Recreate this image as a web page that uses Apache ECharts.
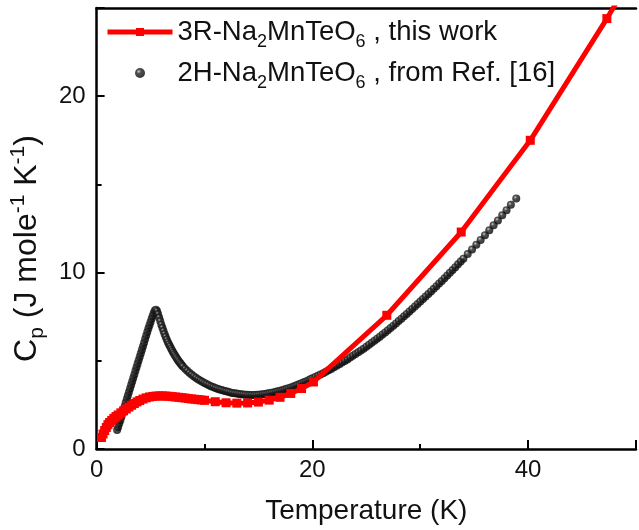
<!DOCTYPE html>
<html>
<head>
<meta charset="utf-8">
<script src="https://cdn.jsdelivr.net/npm/echarts@6/dist/echarts.min.js"></script>
<style>
  html, body { margin: 0; padding: 0; background: #fff; }
  #chart { width: 639px; height: 530px; }
</style>
</head>
<body>
<div id="chart"></div>
<script>
// 3R-Na2MnTeO6 heat capacity (this work): temperature (K) and Cp (J mole^-1 K^-1)
const temp3R = [0.45, 0.6, 0.75, 0.9, 1.05, 1.2, 1.4, 1.6, 1.8, 2.0, 2.25, 2.5, 2.75, 3.0, 3.25, 3.5, 3.75,
  4.0, 4.3, 4.6, 4.9, 5.2, 5.5, 5.8, 6.1, 6.4, 6.7, 7.0, 7.3, 7.6, 7.9, 8.2, 8.5, 8.8, 9.1, 9.4, 9.7,
  10, 11, 12, 13, 14, 15, 16, 17, 18, 19, 20.1, 26.9, 33.8, 40.2, 47.3, 54.2];
const cp3R = [0.65, 0.85, 1.05, 1.22, 1.38, 1.5, 1.62, 1.74, 1.84, 1.93, 2.05, 2.16, 2.27, 2.38, 2.48, 2.58, 2.67,
  2.75, 2.83, 2.9, 2.95, 2.98, 3.0, 3.01, 3.01, 3.0, 2.99, 2.97, 2.95, 2.93, 2.91, 2.89, 2.86, 2.84, 2.82, 2.8, 2.78,
  2.76, 2.68, 2.62, 2.6, 2.61, 2.66, 2.77, 2.93, 3.15, 3.43, 3.8, 7.58, 12.3, 17.5, 24.4, 31.5];

// 2H-Na2MnTeO6 heat capacity (Ref. [16])
const temp2H = [
  1.9, 2.0, 2.1, 2.2, 2.3, 2.4, 2.5, 2.6, 2.7, 2.8, 2.9, 3.0, 3.1, 3.2, 3.3, 3.4, 3.5, 3.6, 3.7, 3.8,
  3.9, 4.0, 4.1, 4.2, 4.3, 4.4, 4.5, 4.6, 4.7, 4.8, 4.9, 5.0, 5.1, 5.2, 5.3, 5.4, 5.5,
  5.6, 5.7, 5.8, 5.9, 6.0, 6.1, 6.2, 6.3, 6.4, 6.5, 6.6, 6.7, 6.8, 6.9, 7.0, 7.1, 7.2, 7.3, 7.4, 7.5,
  7.6, 7.7, 7.8, 7.9, 8.0,
  8.2, 8.4, 8.6, 8.8, 9.0, 9.2, 9.4, 9.6, 9.8, 10.0, 10.2, 10.4, 10.6, 10.8, 11.0, 11.2, 11.4, 11.6,
  11.8, 12.0, 12.2, 12.4, 12.6, 12.8, 13.0, 13.2, 13.4, 13.6, 13.8, 14.0, 14.2, 14.4, 14.6, 14.8, 15.0,
  15.2, 15.4, 15.6, 15.8, 16.0, 16.2, 16.4, 16.6, 16.8, 17.0, 17.2, 17.4, 17.6, 17.8, 18.0, 18.2, 18.4,
  18.6, 18.8, 19.0, 19.2, 19.4, 19.6, 19.8, 20.0,
  20.25, 20.5, 20.75, 21.0, 21.25, 21.5, 21.75, 22.0, 22.25, 22.5, 22.75, 23.0, 23.25, 23.5, 23.75, 24.0,
  24.25, 24.5, 24.75, 25.0, 25.25, 25.5, 25.75, 26.0, 26.25, 26.5, 26.75, 27.0, 27.25, 27.5, 27.75, 28.0,
  28.25, 28.5, 28.75, 29.0, 29.25, 29.5, 29.75, 30.0, 30.25, 30.5, 30.75, 31.0, 31.25, 31.5, 31.75, 32.0,
  32.25, 32.5, 32.75, 33.0, 33.25, 33.5, 33.75, 34.0,
  34.4, 34.8, 35.2, 35.6, 36.0, 36.4, 36.8, 37.2, 37.6, 38.0, 38.4, 38.9];
const cp2H = [
  1.08, 1.25, 1.44, 1.63, 1.83, 2.03, 2.23, 2.43, 2.63, 2.83, 3.03, 3.23, 3.43, 3.63, 3.83, 4.03, 4.23, 4.43, 4.63, 4.83,
  5.03, 5.23, 5.43, 5.63, 5.83, 6.03, 6.23, 6.43, 6.63, 6.83, 7.02, 7.2, 7.38, 7.56, 7.72, 7.85, 7.9,
  7.82, 7.65, 7.45, 7.25, 7.05, 6.87, 6.69, 6.52, 6.36, 6.21, 6.07, 5.94, 5.82, 5.7, 5.58, 5.47, 5.37, 5.27, 5.17, 5.08,
  4.99, 4.91, 4.83, 4.75, 4.68,
  4.55, 4.43, 4.32, 4.22, 4.13, 4.04, 3.96, 3.88, 3.81, 3.74, 3.68, 3.62, 3.56, 3.51, 3.46, 3.42, 3.38, 3.34,
  3.3, 3.27, 3.24, 3.21, 3.18, 3.16, 3.14, 3.12, 3.1, 3.09, 3.08, 3.07, 3.06, 3.06, 3.06, 3.07, 3.08,
  3.09, 3.1, 3.12, 3.14, 3.16, 3.19, 3.21, 3.24, 3.27, 3.3, 3.33, 3.37, 3.41, 3.45, 3.49, 3.53, 3.58,
  3.63, 3.68, 3.73, 3.78, 3.83, 3.89, 3.95, 4.01,
  4.08, 4.15, 4.22, 4.3, 4.38, 4.46, 4.54, 4.63, 4.72, 4.81, 4.9, 4.99, 5.08, 5.18, 5.28, 5.38,
  5.48, 5.58, 5.69, 5.8, 5.91, 6.02, 6.13, 6.25, 6.37, 6.49, 6.61, 6.73, 6.86, 6.99, 7.12, 7.25,
  7.38, 7.52, 7.66, 7.8, 7.94, 8.08, 8.22, 8.36, 8.5, 8.64, 8.78, 8.93, 9.08, 9.23, 9.38, 9.53,
  9.68, 9.83, 9.99, 10.15, 10.31, 10.47, 10.63, 10.79,
  11.05, 11.31, 11.58, 11.85, 12.12, 12.4, 12.68, 12.96, 13.25, 13.54, 13.84, 14.2];

// Axis ranges and labelled ticks
const xRange = [0, 50];
const yRange = [0, 25];
const xTickLabels = [0, 20, 40];
const yTickLabels = [0, 10, 20];

const seriesNames = ['3R-Na2MnTeO6 , this work', '2H-Na2MnTeO6 , from Ref. [16]'];
const legendRich = {
  [seriesNames[0]]: '{m|3R-Na}{s|2}{m|MnTeO}{s|6}{m| , this work}',
  [seriesNames[1]]: '{m|2H-Na}{s|2}{m|MnTeO}{s|6}{m| , from Ref. [16]}'
};

const FONT = '"Liberation Sans", Arial, sans-serif';
const INK = '#111';

// glossy black bead used for the 2H points
const beadColor = {
  type: 'radial', x: 0.38, y: 0.35, r: 0.7,
  colorStops: [
    { offset: 0, color: '#c4c4c4' },
    { offset: 0.3, color: '#262626' },
    { offset: 1, color: '#000' }
  ]
};

const chart = echarts.init(document.getElementById('chart'), null, { renderer: 'canvas' });

const axisLineStyle = { color: '#000', width: 2.5 };

const option = {
  animation: false,
  backgroundColor: '#fff',
  grid: { left: 93, top: 8, width: 552.5, bottom: 78, containLabel: false },
  xAxis: [
    {
      type: 'value', min: xRange[0], max: xRange[1], interval: 20,
      position: 'bottom',
      axisLine: { show: true, onZero: false, lineStyle: axisLineStyle },
      axisTick: { show: true, inside: true, length: 9, lineStyle: { color: '#000', width: 2 } },
      axisLabel: {
        show: true, margin: 9, fontSize: 24, fontFamily: FONT, color: INK,
        formatter: v => (xTickLabels.includes(v) ? String(v) : '')
      },
      splitLine: { show: false },
      name: 'Temperature (K)', nameLocation: 'middle', nameGap: 48,
      nameTextStyle: { fontSize: 28, fontFamily: FONT, color: INK }
    },
    {
      // minor ticks every 10 K
      type: 'value', min: xRange[0], max: xRange[1], interval: 10,
      position: 'bottom',
      axisLine: { show: false, onZero: false },
      axisTick: { show: true, inside: true, length: 5, lineStyle: { color: '#000', width: 2 } },
      axisLabel: { show: false }, splitLine: { show: false }
    },
    {
      // top frame line
      type: 'value', min: xRange[0], max: xRange[1],
      position: 'top',
      axisLine: { show: true, onZero: false, lineStyle: axisLineStyle },
      axisTick: { show: false }, axisLabel: { show: false }, splitLine: { show: false }
    }
  ],
  yAxis: [
    {
      type: 'value', min: yRange[0], max: yRange[1], interval: 10,
      position: 'left',
      axisLine: { show: true, onZero: false, lineStyle: axisLineStyle },
      axisTick: { show: true, inside: true, length: 8, lineStyle: { color: '#000', width: 2 } },
      axisLabel: {
        show: true, margin: 11, fontSize: 24, fontFamily: FONT, color: INK,
        formatter: v => (yTickLabels.includes(v) ? String(v) : '')
      },
      splitLine: { show: false },
      name: '{m|C}{s|p}{m| (J mole}{u|-1}{m| K}{u|-1}{m|)}',
      nameLocation: 'middle', nameGap: 45, nameRotate: 90,
      nameTextStyle: {
        fontFamily: FONT, color: INK,
        padding: [0, 40, 0, 0],
        rich: {
          m: { fontSize: 32, fontFamily: FONT, color: INK, lineHeight: 36 },
          s: { fontSize: 21, fontFamily: FONT, color: INK, padding: [20, 0, 0, 0] },
          u: { fontSize: 21, fontFamily: FONT, color: INK, padding: [0, 0, 18, 0] }
        }
      }
    },
    {
      // minor ticks every 5 units
      type: 'value', min: yRange[0], max: yRange[1], interval: 5,
      position: 'left',
      axisLine: { show: false, onZero: false },
      axisTick: { show: true, inside: true, length: 5, lineStyle: { color: '#000', width: 2 } },
      axisLabel: { show: false }, splitLine: { show: false }
    }
  ],
  legend: {
    orient: 'vertical', left: 100, top: 13, itemWidth: 65, itemHeight: 10, itemGap: 8,
    data: seriesNames,
    formatter: name => legendRich[name],
    lineStyle: { width: 5 },
    textStyle: {
      fontFamily: FONT, color: INK,
      rich: {
        m: { fontSize: 27.5, fontFamily: FONT, color: INK, lineHeight: 30 },
        s: { fontSize: 18, fontFamily: FONT, color: INK, padding: [20, 0, 0, 0] }
      }
    }
  },
  series: [
    {
      name: seriesNames[1], type: 'scatter',
      xAxisIndex: 0, yAxisIndex: 0,
      data: temp2H.map((t, i) => [t, cp2H[i]]),
      symbol: 'circle', symbolSize: 8,
      itemStyle: { color: beadColor },
      z: 2
    },
    {
      name: seriesNames[0], type: 'line',
      xAxisIndex: 0, yAxisIndex: 0,
      data: temp3R.map((t, i) => [t, cp3R[i]]),
      symbol: 'rect', symbolSize: 9, showSymbol: true,
      lineStyle: { color: '#ff0000', width: 5 },
      itemStyle: { color: '#ff0000' },
      clip: true,
      z: 3
    }
  ]
};

chart.setOption(option);
</script>
</body>
</html>
